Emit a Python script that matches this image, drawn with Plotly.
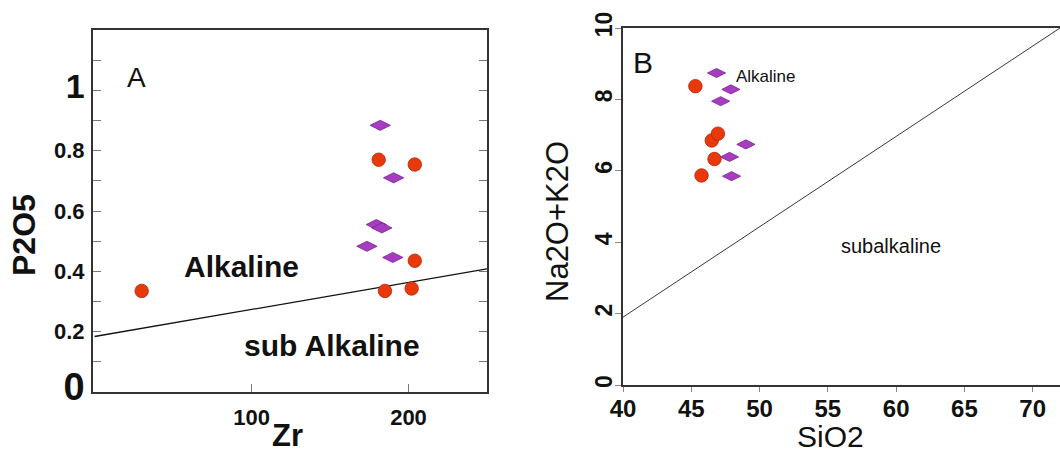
import plotly.graph_objects as go

# ---- Panel A data (Zr vs P2O5) ----
a_circle_zr = [30, 181, 204, 204, 185, 202]
a_circle_p2o5 = [0.335, 0.77, 0.754, 0.435, 0.335, 0.343]
a_diamond_zr = [182, 190.5, 179.5, 183, 173.5, 190]
a_diamond_p2o5 = [0.884, 0.71, 0.555, 0.544, 0.483, 0.446]
a_line_zr = [0, 250]
a_line_p2o5 = [0.184, 0.408]
a_yticks = [0, 0.1, 0.2, 0.3, 0.4, 0.5, 0.6, 0.7, 0.8, 0.9, 1.0, 1.1]
a_yticktext = ["<span style='font-size:38px'>0</span>", "", "0.2", "", "0.4", "", "0.6", "", "0.8", "",
               "<span style='font-size:34px'>1</span>", ""]
a_xticks = [100, 200]
a_xticktext = ["100", "200"]

# ---- Panel B data (SiO2 vs Na2O+K2O) ----
b_circle_sio2 = [45.3, 46.5, 46.95, 46.7, 45.75]
b_circle_alk = [8.37, 6.85, 7.04, 6.33, 5.87]
b_diamond_sio2 = [46.85, 47.9, 47.15, 49.0, 47.8, 47.95]
b_diamond_alk = [8.74, 8.28, 7.95, 6.74, 6.39, 5.85]
b_line_sio2 = [40, 72]
b_line_alk = [1.9, 10]
b_xticks = [40, 45, 50, 55, 60, 65, 70]
b_yticks = [0, 2, 4, 6, 8, 10]

RED = "#e8380c"
RED_EDGE = "#b0280a"
PURPLE = "#a63cc0"
PURPLE_EDGE = "#7a2490"
FONT = "Liberation Sans, Arial, sans-serif"
INK = "#111111"

fig = go.Figure()

# Panel A
fig.add_trace(go.Scatter(x=a_line_zr, y=a_line_p2o5, mode="lines",
                         line=dict(color=INK, width=1.3), xaxis="x", yaxis="y",
                         showlegend=False, hoverinfo="skip"))
fig.add_trace(go.Scatter(x=a_diamond_zr, y=a_diamond_p2o5, mode="markers",
                         marker=dict(symbol="diamond-wide", size=14.5, color=PURPLE,
                                     line=dict(color=PURPLE_EDGE, width=0.8)),
                         xaxis="x", yaxis="y", showlegend=False))
fig.add_trace(go.Scatter(x=a_circle_zr, y=a_circle_p2o5, mode="markers",
                         marker=dict(symbol="circle", size=13.5, color=RED,
                                     line=dict(color=RED_EDGE, width=0.8)),
                         xaxis="x", yaxis="y", showlegend=False))

# Panel B
fig.add_trace(go.Scatter(x=b_line_sio2, y=b_line_alk, mode="lines",
                         line=dict(color="#222222", width=0.9), xaxis="x2", yaxis="y2",
                         showlegend=False, hoverinfo="skip"))
fig.add_trace(go.Scatter(x=b_diamond_sio2, y=b_diamond_alk, mode="markers",
                         marker=dict(symbol="diamond-wide", size=13, color=PURPLE,
                                     line=dict(color=PURPLE_EDGE, width=0.8)),
                         xaxis="x2", yaxis="y2", showlegend=False))
fig.add_trace(go.Scatter(x=b_circle_sio2, y=b_circle_alk, mode="markers",
                         marker=dict(symbol="circle", size=13.5, color=RED,
                                     line=dict(color=RED_EDGE, width=0.8)),
                         xaxis="x2", yaxis="y2", showlegend=False))

W, H = 1060, 455


def paper_text(text, px, py, size, bold=False, angle=0):
    return dict(text=text, x=px / W, y=1 - py / H, xref="paper", yref="paper",
                xanchor="center", yanchor="middle", showarrow=False, textangle=angle,
                font=dict(size=size, family=FONT, color=INK,
                          weight="bold" if bold else "normal"))


fig.update_layout(
    width=W, height=H,
    margin=dict(l=0, r=0, t=0, b=0, autoexpand=False),
    paper_bgcolor="white", plot_bgcolor="white",
    font=dict(family=FONT, color=INK),
    xaxis=dict(
        domain=[93 / W, 487 / W], range=[-1, 250], anchor="y", automargin=False,
        tickvals=a_xticks, ticktext=a_xticktext,
        ticks="inside", ticklen=8, tickcolor="#777777", tickwidth=1,
        tickfont=dict(size=22, weight="bold", family=FONT, color=INK),
        ticklabelstandoff=5,
        showline=True, linecolor="#333333", linewidth=2, mirror=True,
        showgrid=False, zeroline=False,
    ),
    yaxis=dict(
        domain=[1 - 392 / H, 1 - 30 / H], range=[0, 1.2], anchor="x", automargin=False,
        tickvals=a_yticks, ticktext=a_yticktext,
        ticks="inside", ticklen=8, tickcolor="#777777", tickwidth=1,
        tickfont=dict(size=22, weight="bold", family=FONT, color=INK),
        ticklabelstandoff=2,
        showline=True, linecolor="#333333", linewidth=2, mirror="ticks",
        showgrid=False, zeroline=False,
    ),
    xaxis2=dict(
        domain=[623 / W, 1.0], range=[40, 72], anchor="y2", automargin=False,
        tickvals=b_xticks,
        ticks="outside", ticklen=5, tickcolor="#888888", tickwidth=1,
        tickfont=dict(size=24, weight="bold", family=FONT, color=INK),
        ticklabelstandoff=-4,
        showline=True, linecolor="#333333", linewidth=1.8, mirror=True,
        showgrid=False, zeroline=False,
    ),
    yaxis2=dict(
        domain=[1 - 385 / H, 1 - 28 / H], range=[0, 10], anchor="x2", automargin=False,
        tickvals=b_yticks, tickangle=-90,
        ticks="outside", ticklen=6, tickcolor="#888888", tickwidth=1,
        tickfont=dict(size=23, weight="bold", family=FONT, color=INK),
        ticklabelstandoff=-6,
        showline=True, linecolor="#333333", linewidth=1.8, mirror=False,
        showgrid=False, zeroline=False,
    ),
    annotations=[
        # axis titles
        paper_text("Zr", 287, 435, 31, bold=True),
        paper_text("P2O5", 24, 235, 32, bold=True, angle=-90),
        paper_text("SiO2", 830, 436, 30),
        paper_text("Na2O+K2O", 557, 222, 31, angle=-90),
        # panel letters
        paper_text("A", 136, 77, 28),
        paper_text("B", 643, 63, 30),
        # field labels
        dict(text="Alkaline", x=56, y=0.415, xref="x", yref="y", xanchor="left",
             showarrow=False, font=dict(size=30, weight="bold", family=FONT, color=INK)),
        dict(text="sub Alkaline", x=94, y=0.155, xref="x", yref="y", xanchor="left",
             showarrow=False, font=dict(size=30, weight="bold", family=FONT, color=INK)),
        dict(text="Alkaline", x=48.1, y=8.65, xref="x2", yref="y2", xanchor="left",
             showarrow=False, font=dict(size=17, family=FONT, color=INK)),
        dict(text="subalkaline", x=55.85, y=3.9, xref="x2", yref="y2", xanchor="left",
             showarrow=False, font=dict(size=20, family=FONT, color=INK)),
    ],
)

fig.write_html("out.html")
